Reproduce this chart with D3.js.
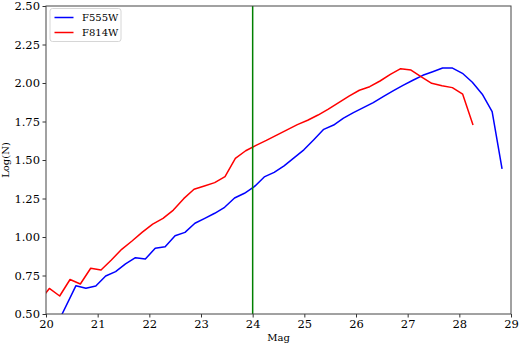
<!DOCTYPE html>
<html>
<head>
<meta charset="utf-8">
<script src="https://cdn.jsdelivr.net/npm/d3@7"></script>
<style>
  body { margin: 0; background: #fff; }
  text { font-family: "DejaVu Serif", serif; fill: #000; }
</style>
</head>
<body>
<svg id="chart" width="520" height="345"></svg>
<script>
// F814W magnitudes and log counts (first point sits left of the axis and is clipped)
const magRed = [19.865, 20.065, 20.265, 20.465, 20.665, 20.865, 21.065, 21.265, 21.465, 21.665, 21.865,
  22.065, 22.265, 22.465, 22.665, 22.865, 23.065, 23.265, 23.465, 23.665, 23.865,
  24.065, 24.265, 24.465, 24.665, 24.865, 25.065, 25.265, 25.465, 25.665, 25.865,
  26.065, 26.265, 26.465, 26.665, 26.865, 27.065, 27.265, 27.465, 27.665, 27.865,
  28.065, 28.265];
const logRed = [0.58, 0.666, 0.617, 0.724, 0.695, 0.797, 0.786, 0.851, 0.920, 0.974, 1.032,
  1.084, 1.121, 1.175, 1.249, 1.310, 1.331, 1.353, 1.392, 1.511, 1.560,
  1.595, 1.627, 1.662, 1.696, 1.730, 1.758, 1.792, 1.830, 1.872, 1.915,
  1.953, 1.976, 2.013, 2.056, 2.093, 2.084, 2.040, 1.998, 1.982, 1.970,
  1.927, 1.727];

// F555W (first point below 0.50 and clipped)
const magBlue = [20.196, 20.580, 20.772, 20.964, 21.155, 21.347, 21.539, 21.731, 21.923, 22.114, 22.306,
  22.498, 22.690, 22.882, 23.073, 23.265, 23.457, 23.649, 23.841, 24.032, 24.224,
  24.416, 24.608, 24.799, 24.991, 25.183, 25.375, 25.567, 25.758, 25.950, 26.142,
  26.334, 26.526, 26.717, 26.909, 27.101, 27.293, 27.485, 27.676, 27.868, 28.060,
  28.252, 28.444, 28.635, 28.827];
const logBlue = [0.42, 0.684, 0.667, 0.682, 0.747, 0.775, 0.825, 0.866, 0.857, 0.927, 0.937,
  1.008, 1.030, 1.089, 1.121, 1.154, 1.193, 1.253, 1.284, 1.327, 1.390,
  1.420, 1.462, 1.514, 1.566, 1.632, 1.699, 1.727, 1.772, 1.808, 1.840,
  1.873, 1.912, 1.949, 1.985, 2.018, 2.050, 2.073, 2.097, 2.097, 2.063,
  2.005, 1.927, 1.814, 1.442];

const xTicks = [20, 21, 22, 23, 24, 25, 26, 27, 28, 29];
const yTicks = [0.50, 0.75, 1.00, 1.25, 1.50, 1.75, 2.00, 2.25, 2.50];
const cutMag = 24;

const series = [
  { name: "F555W", color: "#0000ff", mag: magBlue, val: logBlue },
  { name: "F814W", color: "#ff0000", mag: magRed, val: logRed }
];

const margin = { left: 46, right: 9, top: 6, bottom: 31 };
const width = 520, height = 345;

const svg = d3.select("#chart");

const x = d3.scaleLinear().domain([20, 29]).range([margin.left, width - margin.right]);
const y = d3.scaleLinear().domain([0.5, 2.5]).range([height - margin.bottom, margin.top]);

svg.append("defs").append("clipPath").attr("id", "plotclip")
  .append("rect")
  .attr("x", x(20)).attr("y", y(2.5))
  .attr("width", x(29) - x(20)).attr("height", y(0.5) - y(2.5));

const plot = svg.append("g").attr("clip-path", "url(#plotclip)");

const line = d3.line().x(d => x(d[0])).y(d => y(d[1]));

series.forEach(s => {
  plot.append("path")
    .datum(d3.zip(s.mag, s.val))
    .attr("d", line)
    .attr("fill", "none")
    .attr("stroke", s.color)
    .attr("stroke-width", 1.5)
    .attr("stroke-linejoin", "round");
});

plot.append("line")
  .attr("x1", x(cutMag)).attr("x2", x(cutMag))
  .attr("y1", y(0.5)).attr("y2", y(2.5))
  .attr("stroke", "#008000")
  .attr("stroke-width", 1.5);

// axes
const xAxis = svg.append("g")
  .attr("transform", `translate(0,${y(0.5)})`)
  .call(d3.axisBottom(x).tickValues(xTicks).tickFormat(d3.format("d")).tickSizeOuter(0).tickSize(3.5).tickPadding(2.5));
const yAxis = svg.append("g")
  .attr("transform", `translate(${x(20)},0)`)
  .call(d3.axisLeft(y).tickValues(yTicks).tickFormat(d3.format(".2f")).tickSizeOuter(0).tickSize(3.5).tickPadding(2.5));

[xAxis, yAxis].forEach(a => {
  a.select(".domain").remove();
  a.selectAll(".tick line").attr("stroke", "#333");
  a.selectAll(".tick text")
    .style("font-family", "'DejaVu Serif', serif")
    .style("font-size", "11.5px")
    .attr("fill", "#000");
});

// frame
svg.append("rect")
  .attr("x", x(20)).attr("y", y(2.5))
  .attr("width", x(29) - x(20)).attr("height", y(0.5) - y(2.5))
  .attr("fill", "none")
  .attr("stroke", "#444")
  .attr("stroke-width", 1);

svg.append("text")
  .attr("x", (x(20) + x(29)) / 2)
  .attr("y", 341)
  .attr("text-anchor", "middle")
  .style("font-size", "10px")
  .text("Mag");

svg.append("text")
  .attr("transform", `translate(9,${(y(0.5) + y(2.5)) / 2}) rotate(-90)`)
  .attr("text-anchor", "middle")
  .style("font-size", "10px")
  .text("Log(N)");

// legend
const legend = svg.append("g").attr("transform", "translate(50,8.5)");
legend.append("rect")
  .attr("width", 71).attr("height", 33)
  .attr("rx", 2.5)
  .attr("fill", "#fff")
  .attr("fill-opacity", 0.8)
  .attr("stroke", "#ccc")
  .attr("stroke-width", 0.8);

series.forEach((s, i) => {
  const ly = 9 + i * 15;
  legend.append("line")
    .attr("x1", 4.5).attr("x2", 23.5)
    .attr("y1", ly).attr("y2", ly)
    .attr("stroke", s.color)
    .attr("stroke-width", 1.5);
  legend.append("text")
    .attr("x", 32).attr("y", ly + 3.5)
    .style("font-size", "10px")
    .text(s.name);
});
</script>
</body>
</html>
